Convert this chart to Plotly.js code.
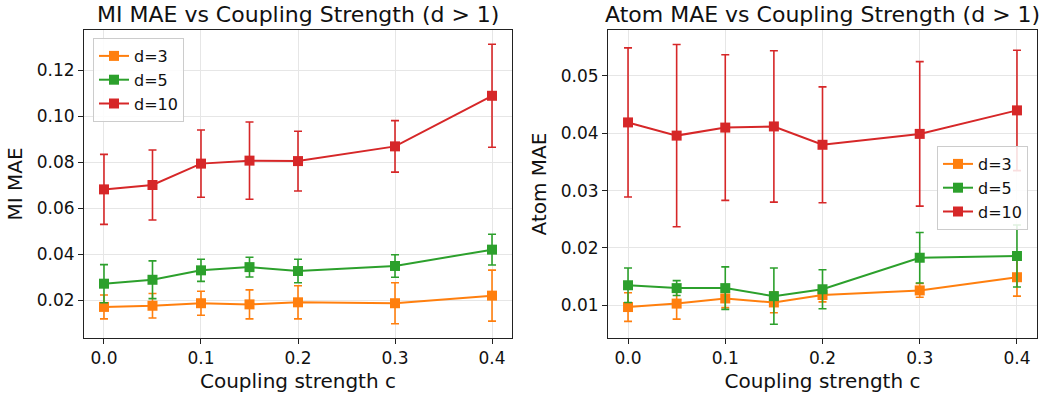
<!DOCTYPE html>
<html>
<head>
<meta charset="utf-8">
<script src="https://cdn.plot.ly/plotly-3.0.1.min.js"></script>
<style>html,body{margin:0;padding:0;background:#fff;}#chart{width:1047px;height:398px;}</style>
</head>
<body>
<div id="chart"></div>
<script>
const couplings = [0.0, 0.05, 0.1, 0.15, 0.2, 0.3, 0.4];
const seriesNames = ["d=3", "d=5", "d=10"];
const seriesColors = ["#ff7f0e", "#2ca02c", "#d62728"];

// MI MAE (left panel)
const miD3 = [0.0170, 0.0175, 0.0186, 0.0181, 0.0190, 0.0186, 0.0219];
const miD3Err = [0.0052, 0.0053, 0.0052, 0.0063, 0.0072, 0.0089, 0.0111];
const miD5 = [0.0271, 0.0288, 0.0329, 0.0343, 0.0326, 0.0348, 0.0419];
const miD5Err = [0.0083, 0.0082, 0.0048, 0.0043, 0.0051, 0.0049, 0.0067];
const miD10 = [0.0681, 0.0700, 0.0793, 0.0806, 0.0804, 0.0868, 0.1088];
const miD10Err = [0.0152, 0.0152, 0.0146, 0.0168, 0.0130, 0.0112, 0.0224];

// Atom MAE (right panel)
const atomD3 = [0.0097, 0.0103, 0.0112, 0.0105, 0.0118, 0.0126, 0.0149];
const atomD3Err = [0.0025, 0.0027, 0.0016, 0.0018, 0.0012, 0.0012, 0.0033];
const atomD5 = [0.0135, 0.0130, 0.0130, 0.0116, 0.0128, 0.0183, 0.0186];
const atomD5Err = [0.0030, 0.0013, 0.0037, 0.0049, 0.0034, 0.0044, 0.0054];
const atomD10 = [0.0419, 0.0396, 0.0410, 0.0412, 0.0380, 0.0399, 0.0440];
const atomD10Err = [0.0130, 0.0159, 0.0127, 0.0132, 0.0101, 0.0126, 0.0105];

const leftData = [[miD3, miD3Err], [miD5, miD5Err], [miD10, miD10Err]];
const rightData = [[atomD3, atomD3Err], [atomD5, atomD5Err], [atomD10, atomD10Err]];

const FONT = "DejaVu Sans, sans-serif";
const traces = [];
function addTraces(data, xa, ya, legend) {
  data.forEach((d, i) => {
    traces.push({
      x: couplings, y: d[0], type: "scatter", mode: "lines+markers",
      name: seriesNames[i], xaxis: xa, yaxis: ya, legend: legend,
      line: {color: seriesColors[i], width: 2},
      marker: {symbol: "square", size: 10, color: seriesColors[i]},
      error_y: {type: "data", array: d[1], visible: true, color: seriesColors[i], thickness: 1.6, width: 4}
    });
  });
}
addTraces(leftData, "x", "y", "legend");
addTraces(rightData, "x2", "y2", "legend2");

const axCommon = {
  showline: true, mirror: true, linecolor: "#222", linewidth: 1,
  ticks: "outside", ticklen: 5, tickcolor: "#222",
  showgrid: true, gridcolor: "#e6e6e6", gridwidth: 1, zeroline: false,
  tickfont: {family: FONT, size: 17, color: "#111"}
};
const titleFont = {family: FONT, size: 20, color: "#111"};
const yTop = 1 - 30/398, yBot = 1 - 338/398;
const layout = {
  width: 1047, height: 398,
  margin: {l: 0, r: 0, t: 0, b: 0},
  paper_bgcolor: "#fff", plot_bgcolor: "#fff",
  font: {family: FONT, color: "#111"},
  xaxis: Object.assign({}, axCommon, {domain: [84/1047, 512/1047], anchor: "y", range: [-0.0206, 0.4206], tickvals: [0, 0.1, 0.2, 0.3, 0.4], tickformat: ".1f",
    title: {text: "Coupling strength c", font: titleFont, standoff: 6}}),
  yaxis: Object.assign({}, axCommon, {domain: [yBot, yTop], anchor: "x", range: [0.00348, 0.1374], tickvals: [0.02, 0.04, 0.06, 0.08, 0.10, 0.12], tickformat: ".2f",
    title: {text: "MI MAE", font: titleFont, standoff: 8}}),
  xaxis2: Object.assign({}, axCommon, {domain: [608/1047, 1037/1047], anchor: "y2", range: [-0.0206, 0.4206], tickvals: [0, 0.1, 0.2, 0.3, 0.4], tickformat: ".1f",
    title: {text: "Coupling strength c", font: titleFont, standoff: 6}}),
  yaxis2: Object.assign({}, axCommon, {domain: [yBot, yTop], anchor: "x2", range: [0.0043, 0.05802], tickvals: [0.01, 0.02, 0.03, 0.04, 0.05], tickformat: ".2f",
    title: {text: "Atom MAE", font: titleFont, standoff: 8}}),
  legend: {x: 93/1047, y: 1 - 38/398, xanchor: "left", yanchor: "top", bgcolor: "rgba(255,255,255,0.85)", bordercolor: "#cccccc", borderwidth: 1,
    font: {family: FONT, size: 16, color: "#111"}, tracegroupgap: 0},
  legend2: {x: 1028/1047, y: 1 - 146/398, xanchor: "right", yanchor: "top", bgcolor: "rgba(255,255,255,0.85)", bordercolor: "#cccccc", borderwidth: 1,
    font: {family: FONT, size: 16, color: "#111"}, tracegroupgap: 0},
  annotations: [
    {text: "MI MAE vs Coupling Strength (d > 1)", xref: "paper", yref: "paper", x: 298/1047, y: 1 - 15/398, xanchor: "center", yanchor: "middle", showarrow: false, font: {family: FONT, size: 22, color: "#111"}},
    {text: "Atom MAE vs Coupling Strength (d > 1)", xref: "paper", yref: "paper", x: 822/1047, y: 1 - 15/398, xanchor: "center", yanchor: "middle", showarrow: false, font: {family: FONT, size: 22, color: "#111"}}
  ],
  showlegend: true
};
Plotly.newPlot("chart", traces, layout, {displayModeBar: false, staticPlot: true});
</script>
</body>
</html>
